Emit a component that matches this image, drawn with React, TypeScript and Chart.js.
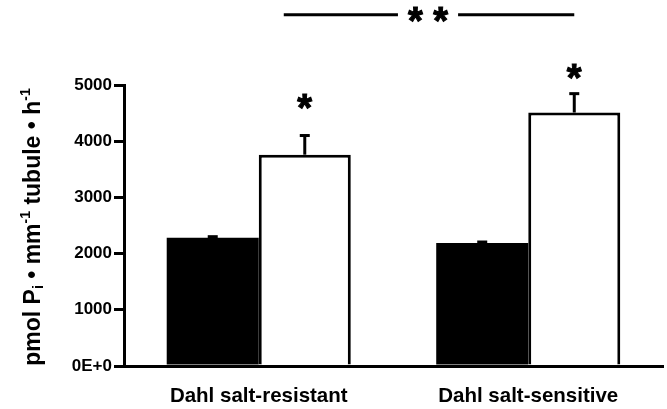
import React, { useEffect, useRef } from "react";
import { Chart, registerables } from "chart.js";

Chart.register(...registerables);

const categories = ["Dahl salt-resistant", "Dahl salt-sensitive"];
const controlValues = [2280, 2190];
const controlErrors = [30, 25];
const treatedValues = [3760, 4510];
const treatedErrors = [350, 345];
const yTickLabels = ["0E+0", "1000", "2000", "3000", "4000", "5000"];
const starValues = [4680, 5230];
const bracketValue = 6250;
const bracketLabel = "* *";

const FONT = "'Liberation Sans', Arial, Helvetica, sans-serif";

const errorBarPlugin = {
  id: "errorBars",
  afterDatasetsDraw(chart: any) {
    const ctx = chart.ctx;
    const y = chart.scales.y;
    const sets = [
      { idx: 0, vals: controlValues, errs: controlErrors },
      { idx: 1, vals: treatedValues, errs: treatedErrors },
    ];
    ctx.save();
    ctx.strokeStyle = "#000";
    ctx.fillStyle = "#000";
    sets.forEach(({ idx, vals, errs }) => {
      const meta = chart.getDatasetMeta(idx);
      meta.data.forEach((bar: any, j: number) => {
        const top = y.getPixelForValue(vals[j] + errs[j]);
        const base = y.getPixelForValue(vals[j]);
        ctx.lineWidth = 3;
        ctx.beginPath();
        ctx.moveTo(bar.x, base);
        ctx.lineTo(bar.x, top);
        ctx.stroke();
        ctx.fillRect(bar.x - 5, top - 1, 10, 3);
      });
    });
    ctx.restore();
  },
};

const annotationPlugin = {
  id: "annotations",
  afterDraw(chart: any) {
    const ctx = chart.ctx;
    const y = chart.scales.y;
    const meta = chart.getDatasetMeta(1);
    ctx.save();
    ctx.fillStyle = "#000";
    ctx.strokeStyle = "#000";
    ctx.textAlign = "center";
    ctx.textBaseline = "middle";
    ctx.font = `bold 38px ${FONT}`;
    ctx.lineWidth = 1;
    meta.data.forEach((bar: any, j: number) => {
      const sy = y.getPixelForValue(starValues[j]) + 8;
      ctx.fillText("*", bar.x, sy);
      ctx.strokeText("*", bar.x, sy);
    });
    // significance bracket
    const x1 = meta.data[0].x - 21;
    const x2 = meta.data[1].x;
    const by = y.getPixelForValue(bracketValue);
    const cx = (x1 + x2) / 2 - 1;
    const w = ctx.measureText(bracketLabel).width;
    ctx.fillText(bracketLabel, cx, by + 9);
    ctx.strokeText(bracketLabel, cx, by + 9);
    ctx.lineWidth = 3;
    ctx.beginPath();
    ctx.moveTo(x1, by);
    ctx.lineTo(cx - w / 2 - 10, by);
    ctx.moveTo(cx + w / 2 + 10, by);
    ctx.lineTo(x2, by);
    ctx.stroke();

    // y-axis title with sub/superscripts
    const segs = [
      { t: "pmol P", s: 0 },
      { t: "i", s: 1 },
      { t: " \u2022 mm", s: 0 },
      { t: "-1", s: -1 },
      { t: " tubule \u2022 h", s: 0 },
      { t: "-1", s: -1 },
    ];
    const big = `bold 23px ${FONT}`;
    const small = `bold 14px ${FONT}`;
    let total = 0;
    segs.forEach((sg) => {
      ctx.font = sg.s === 0 ? big : small;
      total += ctx.measureText(sg.t).width;
    });
    ctx.translate(40, 227);
    ctx.rotate(-Math.PI / 2);
    ctx.textAlign = "left";
    ctx.textBaseline = "alphabetic";
    let x = -total / 2;
    segs.forEach((sg) => {
      ctx.font = sg.s === 0 ? big : small;
      const dy = sg.s === 1 ? 3 : sg.s === -1 ? -10 : 0;
      ctx.fillText(sg.t, x, dy);
      x += ctx.measureText(sg.t).width;
    });
    ctx.restore();
  },
};

export default function App() {
  const ref = useRef<HTMLCanvasElement | null>(null);
  useEffect(() => {
    if (!ref.current) return;
    const chart = new Chart(ref.current, {
      type: "bar",
      data: {
        labels: categories,
        datasets: [
          {
            label: "Control",
            data: controlValues,
            backgroundColor: "#000",
            borderColor: "#000",
            borderWidth: 0,
          },
          {
            label: "Treated",
            data: treatedValues,
            backgroundColor: "#fff",
            borderColor: "#000",
            borderWidth: 3,
          },
        ],
      },
      options: {
        responsive: false,
        animation: false,
        devicePixelRatio: 1,
        layout: { padding: { top: 85, right: 4, left: 0, bottom: 0 } },
        plugins: {
          legend: { display: false },
          tooltip: { enabled: false },
          title: { display: false },
        },
        datasets: {
          bar: { categoryPercentage: 0.683, barPercentage: 1 },
        },
        scales: {
          x: {
            grid: { display: true, drawOnChartArea: false, drawTicks: false },
            border: { color: "#000", width: 3 },
            ticks: {
              color: "#000",
              padding: 18,
              font: { family: FONT, size: 20.5, weight: "bold" },
            },
            afterFit: (s: any) => {
              s.height = 43;
            },
          },
          y: {
            min: 0,
            max: 5000,
            grid: {
              drawOnChartArea: false,
              drawTicks: true,
              tickLength: 10,
              color: "#000",
              lineWidth: 3,
            },
            border: { color: "#000", width: 3 },
            ticks: {
              stepSize: 1000,
              color: "#000",
              padding: 2,
              font: { family: FONT, size: 17, weight: "bold" },
              callback: (_v: any, i: number) => yTickLabels[i],
            },
            afterFit: (s: any) => {
              s.width = 124;
            },
          },
        },
      },
      plugins: [errorBarPlugin, annotationPlugin],
    });
    return () => chart.destroy();
  }, []);
  return (
    <div style={{ position: "fixed", left: 0, top: 0, width: 667, height: 409, background: "#fff" }}>
      <canvas ref={ref} width={667} height={409} style={{ display: "block" }} />
    </div>
  );
}
